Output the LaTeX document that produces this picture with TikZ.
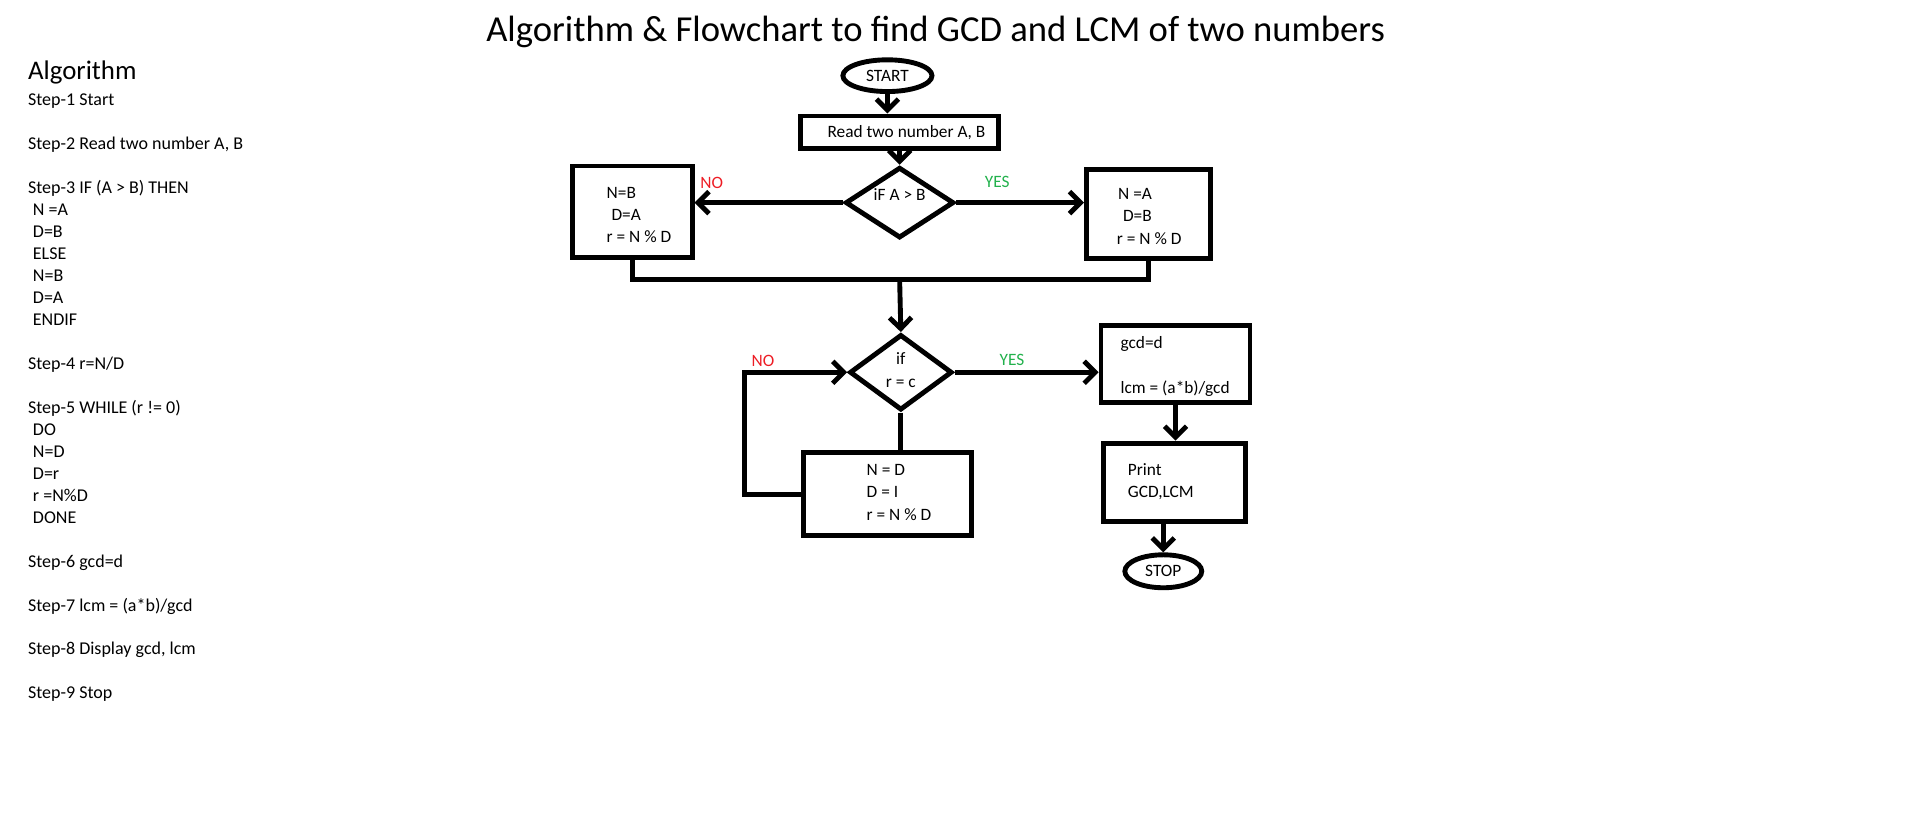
\documentclass[tikz,border=0pt]{standalone}
\usepackage{fontspec}
\setmainfont{Carlito}
\usetikzlibrary{shapes.geometric,arrows.meta}
\definecolor{nored}{RGB}{237,28,36}
\definecolor{yesgreen}{RGB}{34,177,76}
\newcommand\fsStep{\fontsize{14.75}{18}\selectfont}
\newcommand\fsFlow{\fontsize{14.2}{18}\selectfont}
\begin{document}
\begin{tikzpicture}[x=1pt,y=-1pt,line width=4pt,
  box/.style={draw,rectangle,inner sep=0pt,line width=4pt},
  term/.style={draw,ellipse,inner sep=0pt,line width=4pt,font=\fsFlow},
  dec/.style={draw,diamond,inner sep=0pt,line width=4pt},
  ftxt/.style={font=\fsFlow,anchor=base west,inner sep=0pt},
  ctxt/.style={font=\fsFlow,anchor=base,inner sep=0pt},
  arr/.style={-{Straight Barb[length=9pt,width=18pt]}},
  nolbl/.style={font=\fsFlow,anchor=base,inner sep=0pt,text=nored},
  yeslbl/.style={font=\fsFlow,anchor=base,inner sep=0pt,text=yesgreen}]
\useasboundingbox (0,0) rectangle (1568,680);

% title and algorithm
\node[font=\fontsize{30}{36}\selectfont,anchor=base,inner sep=0pt] (title) at (766.5,34) {Algorithm \& Flowchart to find GCD and LCM of two numbers};
\node[font=\fontsize{22}{26}\selectfont,anchor=base west,inner sep=0pt] (alghead) at (21,65) {Algorithm};
\node[font=\fsStep,anchor=north west,inner sep=0pt,align=left] (steps) at (21,75) {%
Step-1 Start\\[18pt]
Step-2 Read two number A, B\\[18pt]
Step-3 IF (A > B) THEN\\
\hspace*{4pt}N =A\\
\hspace*{4pt}D=B\\
\hspace*{4pt}ELSE\\
\hspace*{4pt}N=B\\
\hspace*{4pt}D=A\\
\hspace*{4pt}ENDIF\\[18pt]
Step-4 r=N/D\\[18pt]
Step-5 WHILE (r != 0)\\
\hspace*{4pt}DO\\
\hspace*{4pt}N=D\\
\hspace*{4pt}D=r\\
\hspace*{4pt}r =N\%D\\
\hspace*{4pt}DONE\\[18pt]
Step-6 gcd=d\\[18pt]
Step-7 lcm = (a*b)/gcd\\[18pt]
Step-8 Display gcd, lcm\\[18pt]
Step-9 Stop};

% shapes
\node[term,minimum width=73,minimum height=26] (start) at (727,62) {START};
\node[box,minimum width=162,minimum height=27] (read) at (737,108.5) {};
\node[dec,minimum width=89,minimum height=58] (d1) at (737,166) {};
\node[box,minimum width=98,minimum height=75] (lbox) at (518,173.5) {};
\node[box,minimum width=102,minimum height=73] (rbox) at (941,175.5) {};
\node[dec,minimum width=84,minimum height=62] (d2) at (738,305) {};
\node[box,minimum width=122,minimum height=63] (gcd) at (963,298.5) {};
\node[box,minimum width=116,minimum height=64] (print) at (962,395) {};
\node[box,minimum width=138,minimum height=68] (bbox) at (727,405) {};
\node[term,minimum width=63,minimum height=27] (stop) at (953,468) {STOP};
\coordinate (m) at (737,229);
\coordinate (lp) at (610,0);

% texts
\node[ftxt] (readt) at (676,112.5) {Read two number A, B};
\node[ctxt] (d1t) at (737,164.5) {iF A > B};
\node[ftxt] (l1) at (495,163) {N=B};
\node[ftxt] (l2) at (499,181) {D=A};
\node[ftxt] (l3) at (495,199) {r = N \% D};
\node[ftxt] (r1) at (914,163.5) {N =A};
\node[ftxt] (r2) at (918,181.5) {D=B};
\node[ftxt] (r3) at (913,200.5) {r = N \% D};
\node[ctxt] (d2a) at (738,298.5) {if};
\node[ctxt] (d2b) at (738,317.5) {r = c};
\node[ftxt] (g1) at (916,285.5) {gcd=d};
\node[ftxt] (g2) at (916,322.5) {lcm = (a*b)/gcd};
\node[ftxt] (p1) at (922,389.5) {Print};
\node[ftxt] (p2) at (922,407.5) {GCD,LCM};
\node[ftxt] (b1) at (708,389.5) {N = D};
\node[ftxt] (b2) at (708,407.5) {D = I};
\node[ftxt] (b3) at (708,426.5) {r = N \% D};
\node[nolbl] (no1) at (583,154.5) {NO};
\node[yeslbl] (yes1) at (817,153.5) {YES};
\node[nolbl] (no2) at (625,300.5) {NO};
\node[yeslbl] (yes2) at (829,299.5) {YES};

% connectors
\draw[arr] (start.south) -- (start.south |- read.north);
\draw[arr] (read.south) -- (d1.north);
\draw[arr] (d1.west) -- (d1.west -| lbox.east);
\draw[arr] (d1.east) -- (d1.east -| rbox.west);
\draw (lbox.south) |- (m) -| (rbox.south);
\draw[arr] (m) -- (d2.north);
\draw[arr] (d2.east) -- (d2.east -| gcd.west);
\draw[arr] (gcd.south) -- (gcd.south |- print.north);
\draw[arr] (stop.north |- print.south) -- (stop.north);
\draw (d2.south) -- (d2.south |- bbox.north);
\draw[arr] (bbox.west) -- (bbox.west -| lp) |- (d2.west);
\end{tikzpicture}
\end{document}
